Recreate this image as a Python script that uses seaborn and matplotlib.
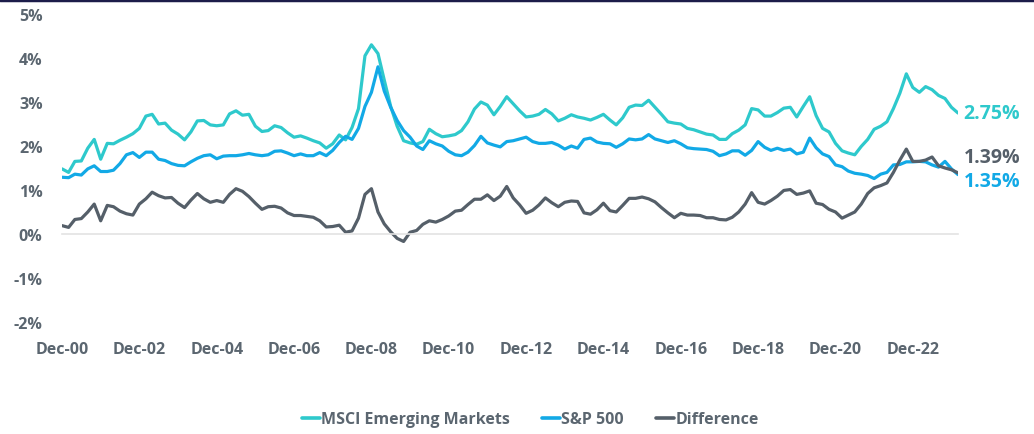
import pandas as pd
import numpy as np
import seaborn as sns
import matplotlib.pyplot as plt
from matplotlib.lines import Line2D
from matplotlib.ticker import FuncFormatter

# bi-monthly observations, Dec-2000 to Feb-2024
dates = pd.date_range('2000-12-01', periods=140, freq='2MS')

msci_em = [
    1.48, 1.40, 1.65, 1.66, 1.95, 2.15, 1.70, 2.06, 2.05, 2.13,
    2.20, 2.28, 2.40, 2.68, 2.72, 2.50, 2.52, 2.36, 2.27, 2.14,
    2.32, 2.57, 2.58, 2.48, 2.46, 2.48, 2.73, 2.80, 2.70, 2.72,
    2.45, 2.33, 2.35, 2.46, 2.42, 2.30, 2.20, 2.23, 2.18, 2.12,
    2.07, 1.95, 2.05, 2.25, 2.14, 2.42, 2.85, 4.05, 4.30, 4.10,
    3.50, 2.90, 2.45, 2.12, 2.07, 2.04, 2.10, 2.38, 2.28, 2.21,
    2.23, 2.26, 2.35, 2.55, 2.84, 3.00, 2.93, 2.71, 2.90, 3.12,
    2.96, 2.80, 2.66, 2.68, 2.72, 2.83, 2.73, 2.57, 2.63, 2.71,
    2.66, 2.63, 2.59, 2.65, 2.72, 2.59, 2.48, 2.64, 2.88, 2.93,
    2.92, 3.04, 2.88, 2.72, 2.55, 2.52, 2.50, 2.40, 2.37, 2.32,
    2.27, 2.25, 2.15, 2.15, 2.28, 2.36, 2.48, 2.85, 2.82, 2.68,
    2.68, 2.76, 2.86, 2.88, 2.66, 2.90, 3.12, 2.69, 2.40, 2.32,
    2.06, 1.89, 1.84, 1.80, 1.99, 2.15, 2.38, 2.45, 2.55, 2.85,
    3.20, 3.64, 3.33, 3.22, 3.35, 3.28, 3.15, 3.08, 2.88, 2.75,
]

sp500 = [
    1.29, 1.28, 1.36, 1.34, 1.48, 1.55, 1.42, 1.42, 1.45, 1.60,
    1.80, 1.85, 1.74, 1.86, 1.86, 1.70, 1.67, 1.60, 1.56, 1.55,
    1.64, 1.72, 1.78, 1.80, 1.71, 1.77, 1.78, 1.78, 1.80, 1.83,
    1.80, 1.78, 1.80, 1.88, 1.89, 1.84, 1.78, 1.82, 1.78, 1.78,
    1.85, 1.78, 1.90, 2.08, 2.22, 2.15, 2.40, 2.90, 3.22, 3.80,
    3.25, 2.88, 2.58, 2.35, 2.20, 2.00, 1.92, 2.12, 2.05, 2.00,
    1.88, 1.80, 1.78, 1.86, 2.01, 2.22, 2.07, 2.02, 1.98, 2.10,
    2.12, 2.16, 2.20, 2.10, 2.06, 2.06, 2.08, 2.02, 1.93, 2.00,
    1.95, 2.15, 2.18, 2.09, 2.06, 2.05, 1.97, 2.05, 2.16, 2.14,
    2.16, 2.26, 2.16, 2.12, 2.08, 2.12, 2.05, 1.96, 1.94, 1.93,
    1.92, 1.88, 1.78, 1.82, 1.89, 1.89, 1.79, 1.90, 2.10, 1.97,
    1.90, 1.95, 1.90, 1.93, 1.82, 1.86, 2.18, 1.96, 1.82, 1.76,
    1.57, 1.53, 1.43, 1.38, 1.36, 1.33, 1.26, 1.36, 1.40, 1.57,
    1.58, 1.64, 1.64, 1.65, 1.64, 1.57, 1.52, 1.65, 1.48, 1.35,
]

difference = [
    0.19, 0.15, 0.33, 0.35, 0.50, 0.68, 0.30, 0.65, 0.62, 0.52,
    0.46, 0.43, 0.68, 0.80, 0.95, 0.87, 0.82, 0.83, 0.70, 0.60,
    0.77, 0.92, 0.80, 0.72, 0.76, 0.72, 0.90, 1.03, 0.97, 0.85,
    0.70, 0.56, 0.62, 0.63, 0.59, 0.48, 0.42, 0.42, 0.40, 0.38,
    0.30, 0.16, 0.17, 0.20, 0.04, 0.07, 0.36, 0.90, 1.03, 0.50,
    0.23, 0.05, -0.10, -0.17, 0.04, 0.08, 0.22, 0.30, 0.27, 0.33,
    0.41, 0.52, 0.54, 0.67, 0.79, 0.79, 0.89, 0.76, 0.86, 1.08,
    0.82, 0.66, 0.47, 0.54, 0.66, 0.82, 0.71, 0.62, 0.72, 0.75,
    0.74, 0.48, 0.45, 0.55, 0.70, 0.53, 0.50, 0.65, 0.81, 0.81,
    0.84, 0.80, 0.73, 0.60, 0.48, 0.37, 0.47, 0.43, 0.43, 0.42,
    0.37, 0.37, 0.33, 0.32, 0.38, 0.50, 0.68, 0.94, 0.72, 0.68,
    0.76, 0.86, 0.99, 1.01, 0.90, 0.93, 0.98, 0.70, 0.67, 0.56,
    0.50, 0.36, 0.43, 0.50, 0.68, 0.92, 1.05, 1.10, 1.16, 1.40,
    1.68, 1.93, 1.65, 1.65, 1.68, 1.75, 1.55, 1.50, 1.46, 1.39,
]

series_names = ['MSCI Emerging Markets', 'S&P 500', 'Difference']
colors = ['#2ec9cc', '#12a9e6', '#555f69']
text_grey = '#5b6670'

df = pd.DataFrame({'date': dates,
                   series_names[0]: msci_em,
                   series_names[1]: sp500,
                   series_names[2]: difference})
long_df = df.melt(id_vars='date', var_name='series', value_name='value')

sns.set_style('white')
plt.rcParams['font.family'] = ['Open Sans', 'DejaVu Sans']

fig = plt.figure(figsize=(10.34, 4.35), dpi=100)
ax = fig.add_axes([0.060, 0.2575, 0.8665, 0.708])

sns.lineplot(data=long_df, x='date', y='value', hue='series',
             hue_order=series_names, palette=colors, linewidth=2.3,
             legend=False, ax=ax)

ax.set_xlim(dates[0], dates[-1])
ax.set_ylim(-2, 5)
ax.set_yticks(range(-2, 6))
ax.yaxis.set_major_formatter(FuncFormatter(lambda v, p: f'{int(v)}%'))

xticks = pd.date_range('2000-12-01', '2022-12-01', freq='24MS')
ax.set_xticks(xticks)
ax.set_xticklabels([d.strftime('Dec-%y') for d in xticks])

for s in ['top', 'right', 'left']:
    ax.spines[s].set_visible(False)
ax.spines['bottom'].set_position(('data', 0))
ax.spines['bottom'].set_color('#e3e3e3')
ax.spines['bottom'].set_linewidth(1.2)

ax.tick_params(axis='x', direction='out', length=6, width=1.2, color='#e3e3e3',
               pad=71, labelsize=11.5, labelcolor=text_grey)
ax.tick_params(axis='y', length=0, pad=14, labelsize=11.5, labelcolor=text_grey)
for lab in ax.get_xticklabels() + ax.get_yticklabels():
    lab.set_fontweight('bold')
ax.set_xlabel('')
ax.set_ylabel('')

# end-of-series labels
end_vals = [msci_em[-1], difference[-1], sp500[-1]]
end_cols = [colors[0], colors[2], colors[1]]
end_offsets = [0, 11.5, -4.5]
for v, c, off in zip(end_vals, end_cols, end_offsets):
    ax.annotate(f'{v:.2f}%', xy=(dates[-1], v), xytext=(4, off),
                textcoords='offset points', va='center', ha='left',
                fontsize=14, fontweight='bold', color=c, annotation_clip=False)

handles = [Line2D([0], [0], color=c, lw=2.6) for c in colors]
leg = fig.legend(handles, series_names, loc='center', ncol=3,
                 bbox_to_anchor=(0.513, 0.034), frameon=False,
                 handlelength=1.1, handletextpad=0.1, columnspacing=2.0,
                 prop={'size': 11.5, 'weight': 'bold'})
for t in leg.get_texts():
    t.set_color(text_grey)

# thin navy rule along the top edge
fig.add_artist(Line2D([0, 1], [0.998, 0.998], transform=fig.transFigure,
                      color='#1c1c4a', lw=2.5))

fig.savefig('out.png', dpi=100)
